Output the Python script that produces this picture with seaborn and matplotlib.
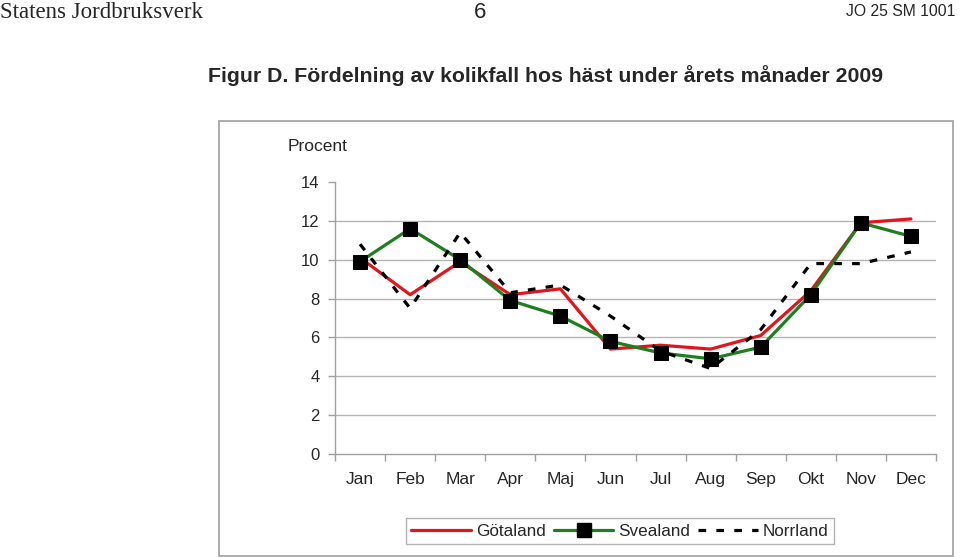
import numpy as np
import pandas as pd
import matplotlib
matplotlib.use("Agg")
import matplotlib.pyplot as plt
import seaborn as sns
from matplotlib.patches import Rectangle
from matplotlib.lines import Line2D

months = ["Jan", "Feb", "Mar", "Apr", "Maj", "Jun", "Jul", "Aug", "Sep", "Okt", "Nov", "Dec"]
gotaland = [10.1, 8.2, 9.9, 8.2, 8.5, 5.4, 5.6, 5.4, 6.1, 8.4, 11.9, 12.1]
svealand = [9.9, 11.6, 10.0, 7.9, 7.1, 5.8, 5.2, 4.9, 5.5, 8.2, 11.9, 11.2]
norrland = [10.8, 7.5, 11.4, 8.3, 8.7, 7.1, 5.3, 4.4, 6.4, 9.8, 9.8, 10.4]
yticks = [0, 2, 4, 6, 8, 10, 12, 14]

sns.set_theme(style="white")
plt.rcParams['font.family'] = ['Liberation Sans', 'DejaVu Sans']

fig = plt.figure(figsize=(9.6, 5.57), dpi=100)
ax = fig.add_axes([335/960, 1-454/557, (936-335)/960, (454-182)/557])

x = np.arange(len(months))
red = "#e3141c"
green = "#1d7f1d"
sns.lineplot(x=x, y=gotaland, ax=ax, color=red, linewidth=2.3, zorder=3)
sns.lineplot(x=x, y=svealand, ax=ax, color=green, linewidth=2.3, marker="s",
             markersize=9.5, markerfacecolor="black", markeredgecolor="black", zorder=4)
sns.lineplot(x=x, y=norrland, ax=ax, color="black", linewidth=2.3, zorder=5)
ax.lines[-1].set_dashes((2.4, 3.2))

ax.set_xlim(-0.5, 11.5)
ax.set_ylim(0, 14)
ax.set_yticks(yticks)
ax.set_yticklabels([str(v) for v in yticks], fontsize=12)
for v in yticks[1:-1]:
    ax.axhline(v, color="#b4b4b4", linewidth=1.0, zorder=1)

ax.set_xticks(x)
ax.set_xticklabels(months, fontsize=12.5)
ax.set_xticks(np.arange(-0.5, 12, 1), minor=True)
ax.tick_params(axis="x", which="major", length=0, pad=13)
ax.tick_params(axis="x", which="minor", length=5, color="#a0a0a0", width=1, direction="out")
ax.tick_params(axis="y", which="major", length=5, color="#a0a0a0", width=1, direction="out", pad=6)
ax.xaxis.set_ticks_position("bottom")
ax.yaxis.set_ticks_position("left")
for s in ["top", "right"]:
    ax.spines[s].set_visible(False)
for s in ["left", "bottom"]:
    ax.spines[s].set_color("#a0a0a0")
    ax.spines[s].set_linewidth(1.0)
ax.set_xlabel("")
ax.set_ylabel("")

fig.text(288/960, 1-147/557, "Procent", fontsize=12.5, ha="left", va="center")

# chart frame
fig.patches.append(Rectangle((219/960, 1-556/557), (953-219)/960, (556-121)/557,
                             transform=fig.transFigure, fill=False, edgecolor="#a0a0a0",
                             linewidth=1.2, zorder=0))

# page header
fig.text(0.0, 1-12/557, "Statens Jordbruksverk", fontsize=16.5, family=["Liberation Serif", "DejaVu Serif"],
         ha="left", va="center")
fig.text(480/960, 1-12/557, "6", fontsize=16, ha="center", va="center")
fig.text(955/960, 1-12/557, "JO 25 SM 1001", fontsize=11.3, ha="right", va="center")
fig.text(546/960, 1-76/557, "Figur D. Fördelning av kolikfall hos häst under årets månader 2009",
         fontsize=15.3, fontweight="bold", ha="center", va="center")

handles = [
    Line2D([], [], color=red, linewidth=2.3),
    Line2D([], [], color=green, linewidth=2.3, marker="s", markersize=9.5,
           markerfacecolor="black", markeredgecolor="black"),
    Line2D([], [], color="black", linewidth=2.3, dashes=(2.4, 3.2)),
]
leg = fig.legend(handles, ["Götaland", "Svealand", "Norrland"], loc="center",
                 bbox_to_anchor=(620/960, 1-531/557), ncol=3, fontsize=12.3,
                 frameon=True, fancybox=False, handlelength=3.5, handletextpad=0.3,
                 columnspacing=0.45, borderpad=0.3, borderaxespad=0)
leg.get_frame().set_edgecolor("#a0a0a0")
leg.get_frame().set_linewidth(1.0)

fig.savefig("out.png", dpi=100)
